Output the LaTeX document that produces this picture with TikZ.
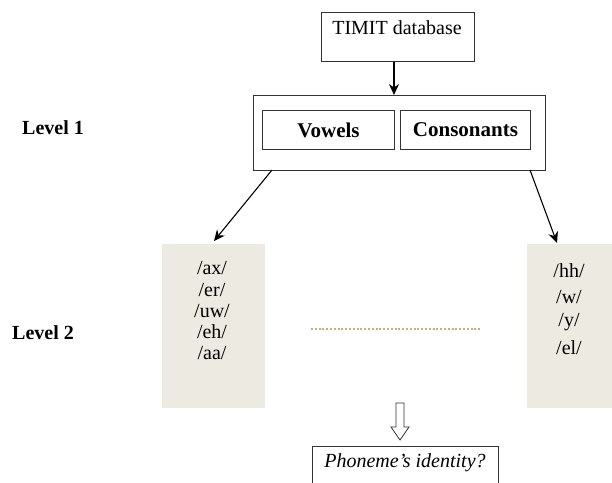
\documentclass[tikz,border=0pt]{standalone}
\usepackage{fontspec}
\setmainfont{Liberation Serif}
\usetikzlibrary{arrows.meta}
\definecolor{panel}{HTML}{EDEAE1}
\definecolor{dotc}{HTML}{C4B27A}
\tikzset{
  boxed/.style={draw=black!80, line width=1pt, inner sep=0pt},
  txt/.style={font=\fontsize{20}{23}\selectfont, inner sep=0pt},
  btxt/.style={font=\fontsize{20}{23}\selectfont\bfseries, inner sep=0pt},
  bbtxt/.style={font=\fontsize{21}{24}\selectfont\bfseries, inner sep=0pt},
  itxt/.style={font=\fontsize{20}{23}\selectfont\itshape, inner sep=0pt},
  panelbox/.style={fill=panel, draw=none, inner sep=0pt},
  arr/.style={line width=1.1pt, -{Stealth[length=11pt,width=10pt]}},
}
\begin{document}
\begin{tikzpicture}[x=1pt,y=-1pt]
\clip (0,0) rectangle (612,482);
\fill[white] (0,0) rectangle (612,482);
% TIMIT box
\node[boxed, anchor=north west, minimum width=153pt, minimum height=49pt] (timit) at (321,12) {};
\node[txt] (timitt) at (397,28) {TIMIT database};
% level 1 outer box
\node[boxed, anchor=north west, minimum width=292pt, minimum height=75pt] (outer) at (253,95) {};
\node[boxed, anchor=north west, minimum width=132pt, minimum height=39pt] (vow) at (262,110) {};
\node[boxed, anchor=north west, minimum width=130pt, minimum height=39pt] (cons) at (400,110) {};
\node[bbtxt] at (vow.center) {Vowels};
\node[bbtxt] at (cons.center) {Consonants};
\draw[arr] (timit.south -| 394,0) -- (outer.north -| 394,0);
% level labels
\node[btxt] (l1) at (53,128) {Level 1};
\node[btxt] (l2) at (43,333) {Level 2};
% panels
\node[panelbox, anchor=north west, minimum width=103pt, minimum height=164pt] (left) at (162,244) {};
\node[panelbox, anchor=north west, minimum width=90pt, minimum height=164pt] (right) at (527,244) {};
\node[txt] at (212,268) {/ax/};
\node[txt] at (212,290) {/er/};
\node[txt] at (212,311) {/uw/};
\node[txt] at (212,332) {/eh/};
\node[txt] at (212,353) {/aa/};
\node[txt] at (569,271) {/hh/};
\node[txt] at (569,297) {/w/};
\node[txt] at (569,322) {/y/};
\node[txt] at (569,348) {/el/};
% connectors
\coordinate (oL) at (272,170);
\coordinate (oR) at (530,170);
\coordinate (pL) at (214,241);
\coordinate (pR) at (557,243);
\draw[arr] (oL) -- (pL);
\draw[arr] (oR) -- (pR);
% dotted line
\coordinate (d1) at (311,329);
\coordinate (d2) at (480,329);
\draw[dotc, line width=2pt, dash pattern=on 2pt off 1.8pt] (d1) -- (d2);
% hollow arrow
\draw[line width=0.8pt, draw=black!80, fill=white]
  (396,403) -- (404,403) -- (404,427) -- (409,427) -- (400,440) -- (391,427) -- (396,427) -- cycle;
% final box
\node[boxed, anchor=north west, minimum width=186pt, minimum height=50pt] (ident) at (312,446) {};
\node[itxt] at (405,463) {Phoneme's identity?};
\end{tikzpicture}
\end{document}
